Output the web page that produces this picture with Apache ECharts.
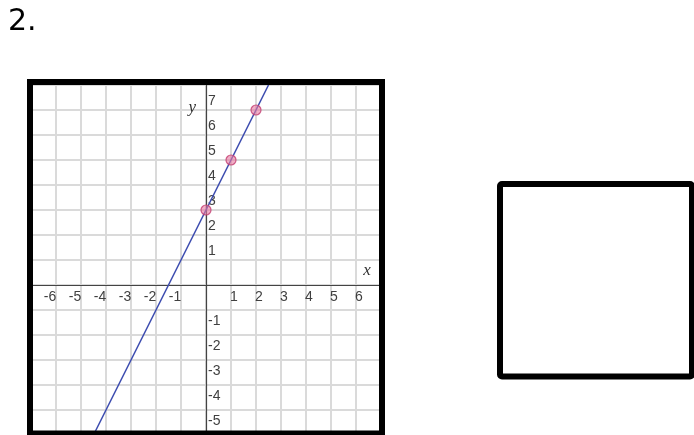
<!DOCTYPE html>
<html>
<head>
<meta charset="utf-8">
<style>
  html, body { margin: 0; padding: 0; background: #fff; }
  #chart { width: 694px; height: 435px; }
</style>
<script src="https://cdn.jsdelivr.net/npm/echarts@6/dist/echarts.min.js"></script>
</head>
<body>
<div id="chart"></div>
<script>
// line y = 2x + 3, endpoints read where it leaves the grid
const lineX = [-4.5, 2.5];
const lineY = [-6, 8];
// plotted points
const pointX = [0, 1, 2];
const pointY = [3, 5, 7];
// tick labels shown on the axes
const xTicks = [-6, -5, -4, -3, -2, -1, 1, 2, 3, 4, 5, 6];
const yTicks = [-5, -4, -3, -2, -1, 1, 2, 3, 4, 5, 6, 7];

const chart = echarts.init(document.getElementById("chart"));

const labelFont = { fontFamily: "Liberation Sans", fontSize: 14, color: "#404040" };

let option = {
  animation: false,
  backgroundColor: "#fff",
  title: {
    text: "2.",
    left: 3,
    top: 2,
    textStyle: { fontFamily: "DejaVu Sans", fontSize: 30, fontWeight: "normal", color: "#000" },
  },
  grid: { left: 31, top: 85, width: 350, height: 350, containLabel: false, outerBoundsMode: "none" },
  xAxis: {
    type: "value",
    position: "bottom",
    offset: -150, // y = 0 sits 6 units above the bottom
    min: -7,
    max: 7,
    interval: 1,
    name: "x",
    nameLocation: "end",
    nameGap: -14,
    nameTextStyle: {
      fontFamily: "Liberation Serif", fontStyle: "italic", fontSize: 17, color: "#333",
      align: "center", verticalAlign: "bottom", padding: [0, 0, 6, 0],
    },
    axisLine: { onZero: false, lineStyle: { color: "#444", width: 1.2 } },
    axisTick: { show: false },
    splitLine: { lineStyle: { color: "#dadada", width: 2 } },
    axisLabel: {
      margin: 5,
      formatter: (v) => {
        if (xTicks.indexOf(v) < 0) return "";
        return v < 0 ? "{n|" + v + "}" : "{p|" + v + "}";
      },
      rich: {
        n: { ...labelFont, padding: [0, 12, 0, 0] },
        p: { ...labelFont, padding: [0, 0, 0, 6] },
      },
    },
  },
  yAxis: {
    type: "value",
    position: "left",
    offset: -175, // x = 0 sits 7 units right of the left edge
    min: -6,
    max: 8,
    interval: 1,
    name: "y",
    nameLocation: "end",
    nameGap: -23,
    nameTextStyle: {
      fontFamily: "Liberation Serif", fontStyle: "italic", fontSize: 17, color: "#333",
      align: "right", verticalAlign: "middle", padding: [0, 10, 0, 0],
    },
    axisLine: { onZero: false, lineStyle: { color: "#444", width: 1.2 } },
    axisTick: { show: false },
    splitLine: { lineStyle: { color: "#dadada", width: 2 } },
    axisLabel: {
      inside: true,
      margin: 2,
      formatter: (v) => {
        if (yTicks.indexOf(v) < 0) return "";
        return v < 0 ? "{n|" + v + "}" : "{p|" + v + "}";
      },
      rich: {
        n: { ...labelFont, padding: [22, 0, 0, 0] },
        p: { ...labelFont, padding: [0, 0, 18, 0] },
      },
    },
  },
  series: [
    {
      type: "line",
      data: lineX.map((x, i) => [x, lineY[i]]),
      symbol: "none",
      lineStyle: { color: "#3d4cb0", width: 1.5 },
      z: 3,
    },
    {
      type: "scatter",
      data: pointX.map((x, i) => [x, pointY[i]]),
      symbol: "circle",
      symbolSize: 10,
      itemStyle: { color: "rgba(232,120,160,0.75)", borderColor: "#c23a6e", borderWidth: 1.2 },
      z: 4,
    },
  ],
  graphic: [
    {
      type: "rect",
      z: 100,
      shape: { x: 30, y: 82, width: 352, height: 351.5 },
      style: { fill: "none", stroke: "#000", lineWidth: 6 },
    },
    {
      type: "rect",
      z: 100,
      shape: { x: 500, y: 184, width: 192, height: 192.5, r: 2 },
      style: { fill: "none", stroke: "#000", lineWidth: 6 },
    },
  ],
};

chart.setOption(option);
</script>
</body>
</html>
